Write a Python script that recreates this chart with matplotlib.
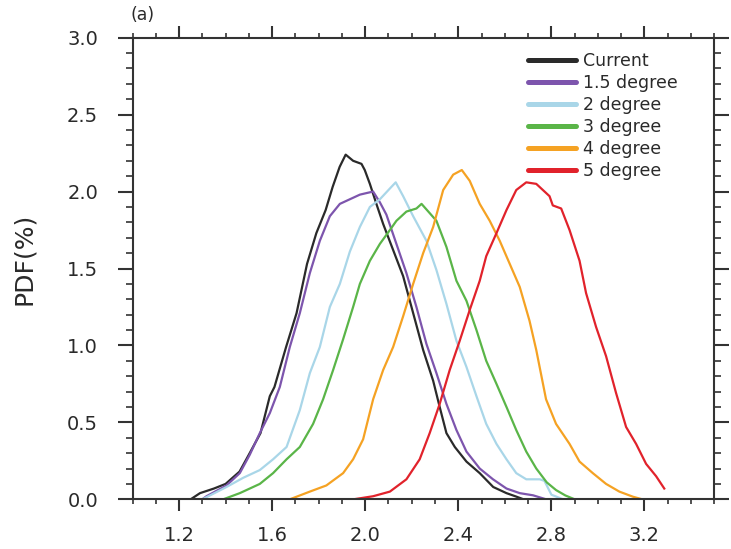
import matplotlib
matplotlib.use("Agg")
import matplotlib.pyplot as plt
from matplotlib.ticker import MultipleLocator, FixedLocator

# ---------------- data ----------------
labels = ["Current", "1.5 degree", "2 degree", "3 degree", "4 degree", "5 degree"]
colors = ["#2a2a2a", "#7d55ad", "#a9d6e8", "#5ab548", "#f5a223", "#e1222b"]

x_current = [1.25, 1.29, 1.35, 1.40, 1.46, 1.50, 1.55, 1.59, 1.61, 1.66, 1.705, 1.75, 1.79,
             1.83, 1.86, 1.89, 1.916, 1.948, 1.984, 1.998, 2.02, 2.048, 2.077, 2.12, 2.163,
             2.206, 2.249, 2.292, 2.32, 2.349, 2.385, 2.435, 2.492, 2.55, 2.607, 2.65, 2.68]
pdf_current = [0.0, 0.04, 0.07, 0.10, 0.18, 0.29, 0.43, 0.67, 0.73, 0.99, 1.21, 1.53, 1.73,
               1.88, 2.03, 2.16, 2.24, 2.20, 2.18, 2.14, 2.05, 1.92, 1.79, 1.62, 1.45,
               1.21, 0.97, 0.77, 0.60, 0.43, 0.34, 0.245, 0.17, 0.08, 0.04, 0.017, 0.0]

x_15 = [1.30, 1.318, 1.404, 1.461, 1.504, 1.547, 1.590, 1.633, 1.676, 1.719, 1.762, 1.805,
        1.848, 1.891, 1.934, 1.977, 2.005, 2.034, 2.063, 2.091, 2.134, 2.177, 2.22, 2.263,
        2.306, 2.349, 2.392, 2.435, 2.492, 2.549, 2.607, 2.664, 2.721, 2.777]
pdf_15 = [0.0, 0.02, 0.09, 0.17, 0.29, 0.43, 0.56, 0.73, 0.99, 1.21, 1.47, 1.68,
          1.84, 1.92, 1.95, 1.98, 1.99, 2.00, 1.93, 1.85, 1.66, 1.47, 1.25, 1.01,
          0.82, 0.62, 0.45, 0.31, 0.20, 0.13, 0.07, 0.04, 0.026, 0.0]

x_2 = [1.30, 1.404, 1.476, 1.547, 1.604, 1.662, 1.719, 1.762, 1.805, 1.848, 1.891, 1.934,
       1.977, 2.02, 2.063, 2.106, 2.131, 2.163, 2.206, 2.263, 2.306, 2.349, 2.392, 2.435,
       2.478, 2.52, 2.564, 2.607, 2.649, 2.692, 2.75, 2.77, 2.80, 2.85]
pdf_2 = [0.0, 0.08, 0.14, 0.19, 0.26, 0.34, 0.58, 0.82, 0.99, 1.25, 1.40, 1.61,
         1.77, 1.90, 1.95, 2.02, 2.06, 1.97, 1.84, 1.68, 1.49, 1.27, 1.03, 0.86,
         0.67, 0.49, 0.36, 0.26, 0.17, 0.13, 0.13, 0.12, 0.03, 0.0]

x_3 = [1.39, 1.461, 1.547, 1.604, 1.662, 1.719, 1.776, 1.819, 1.862, 1.905, 1.948, 1.977,
       2.02, 2.063, 2.106, 2.134, 2.177, 2.22, 2.242, 2.277, 2.306, 2.349, 2.392, 2.435,
       2.478, 2.52, 2.564, 2.607, 2.649, 2.692, 2.735, 2.78, 2.82, 2.86, 2.90]
pdf_3 = [0.0, 0.04, 0.10, 0.17, 0.26, 0.34, 0.49, 0.65, 0.84, 1.04, 1.25, 1.40,
         1.55, 1.66, 1.75, 1.81, 1.87, 1.89, 1.92, 1.86, 1.81, 1.64, 1.42, 1.29,
         1.10, 0.90, 0.75, 0.60, 0.45, 0.31, 0.20, 0.11, 0.06, 0.025, 0.0]

x_4 = [1.676, 1.762, 1.833, 1.905, 1.948, 1.991, 2.034, 2.077, 2.12, 2.163, 2.206, 2.249,
       2.292, 2.335, 2.378, 2.415, 2.449, 2.492, 2.535, 2.578, 2.621, 2.664, 2.706, 2.735,
       2.777, 2.82, 2.878, 2.921, 2.978, 3.035, 3.092, 3.15, 3.19]
pdf_4 = [0.0, 0.05, 0.09, 0.17, 0.26, 0.39, 0.65, 0.84, 0.99, 1.19, 1.40, 1.60,
         1.77, 2.01, 2.11, 2.14, 2.07, 1.92, 1.81, 1.68, 1.53, 1.38, 1.16, 0.97,
         0.65, 0.49, 0.36, 0.245, 0.17, 0.10, 0.05, 0.017, 0.0]

x_5 = [1.95, 2.034, 2.106, 2.177, 2.234, 2.277, 2.32, 2.363, 2.406, 2.449, 2.492, 2.52,
       2.564, 2.607, 2.649, 2.692, 2.735, 2.792, 2.806, 2.842, 2.878, 2.921, 2.949, 2.992,
       3.035, 3.078, 3.121, 3.164, 3.207, 3.25, 3.285]
pdf_5 = [0.0, 0.02, 0.05, 0.13, 0.26, 0.43, 0.62, 0.84, 1.03, 1.23, 1.42, 1.58,
         1.73, 1.88, 2.01, 2.06, 2.05, 1.97, 1.91, 1.89, 1.75, 1.55, 1.34, 1.12,
         0.93, 0.69, 0.47, 0.36, 0.23, 0.15, 0.07]

x_major = [1.2, 1.6, 2.0, 2.4, 2.8, 3.2]
x_ticklabels = ["1.2", "1.6", "2.0", "2.4", "2.8", "3.2"]
y_major = [0.0, 0.5, 1.0, 1.5, 2.0, 2.5, 3.0]
y_ticklabels = ["0.0", "0.5", "1.0", "1.5", "2.0", "2.5", "3.0"]

series_x = [x_current, x_15, x_2, x_3, x_4, x_5]
series_y = [pdf_current, pdf_15, pdf_2, pdf_3, pdf_4, pdf_5]

# ---------------- figure ----------------
plt.rcParams["font.family"] = ["DejaVu Sans"]
txt = "#2a2a2a"
W, H = 731, 549
fig = plt.figure(figsize=(W / 100, H / 100), dpi=100)
L, R, T, B = 132.5, 714.3, 37.7, 499.3
ax = fig.add_axes([L / W, 1 - B / H, (R - L) / W, (B - T) / H])

for xs, ys, c, lab in zip(series_x, series_y, colors, labels):
    ax.plot(xs, ys, color=c, lw=1.6, label=lab, solid_joinstyle="round")

ax.set_xlim(1.0, 3.5)
ax.set_ylim(0.0, 3.0)
ax.xaxis.set_major_locator(FixedLocator(x_major))
ax.set_xticklabels(x_ticklabels)
ax.xaxis.set_minor_locator(MultipleLocator(0.1))
ax.yaxis.set_major_locator(FixedLocator(y_major))
ax.set_yticklabels(y_ticklabels)
ax.yaxis.set_minor_locator(MultipleLocator(0.1))

for s in ax.spines.values():
    s.set_linewidth(1.5)
    s.set_color("#333333")

ax.tick_params(axis="x", which="major", direction="out", length=8.6, width=1.5,
               top=True, bottom=True, labelsize=14, pad=10.5, colors="#333333", labelcolor=txt)
ax.tick_params(axis="x", which="minor", direction="out", length=3.8, width=1.2,
               top=True, bottom=True, colors="#333333")
ax.tick_params(axis="y", which="major", direction="out", length=10.8, width=1.5,
               left=True, right=True, labelsize=14, pad=14, colors="#333333", labelcolor=txt)
ax.tick_params(axis="y", which="minor", direction="out", length=4.8, width=1.2,
               left=True, right=True, colors="#333333")

fig.text(24 / W, 1 - 258.5 / H, "PDF(%)", rotation=90, ha="center", va="center",
         fontsize=18, color=txt)
fig.text(131 / W, 1 - 15 / H, "(a)", ha="left", va="center", fontsize=12.5, color=txt)

leg = ax.legend(loc="upper left", bbox_to_anchor=((528.3 - L) / (R - L), 1 - (52.5 - T) / (B - T)),
                frameon=False, fontsize=12.5, handlelength=2.75, handletextpad=0.4,
                labelspacing=0.22, borderaxespad=0, borderpad=0)
for line in leg.get_lines():
    line.set_linewidth(3.6)
    line.set_solid_capstyle("round")
for t in leg.get_texts():
    t.set_color(txt)

fig.savefig("out.png", dpi=100)
